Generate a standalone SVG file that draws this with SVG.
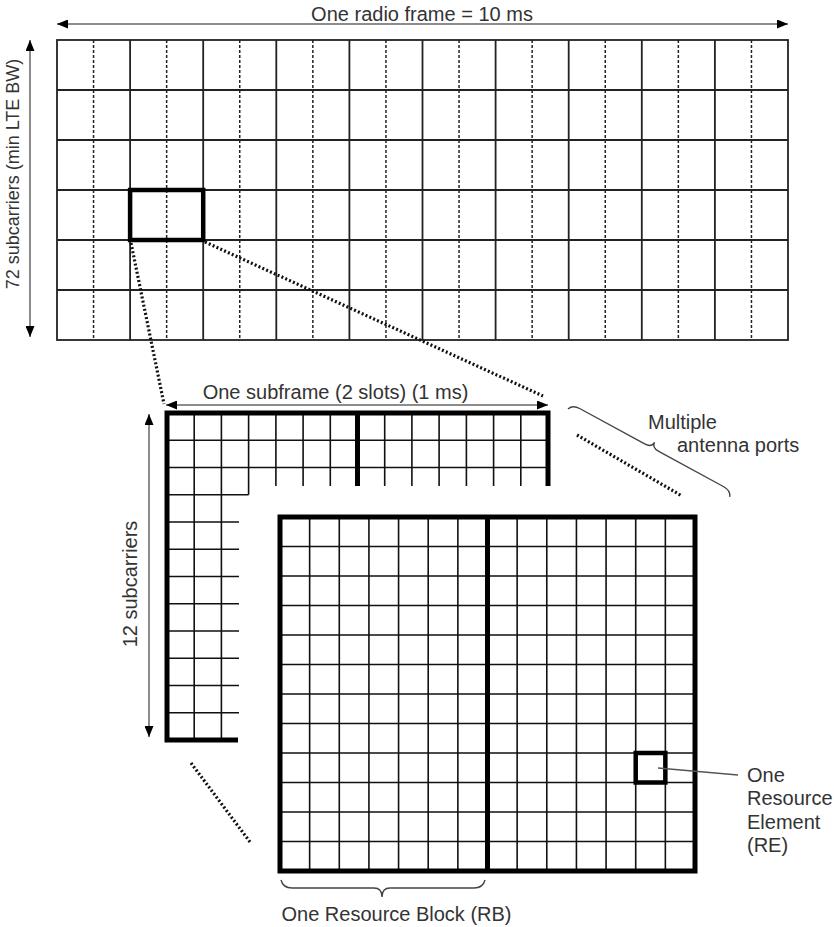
<svg xmlns="http://www.w3.org/2000/svg" width="834" height="927" viewBox="0 0 834 927">
<defs>
<style>
text{font-family:"Liberation Sans",Arial,sans-serif;fill:#333;font-size:20px}
.solid{stroke:#222;stroke-width:1.8;fill:none}
.dash{stroke:#222;stroke-width:1.5;stroke-dasharray:3,2;fill:none}
.thin{stroke:#111;stroke-width:1.6;fill:none}
.thick{stroke:#000;stroke-width:5;fill:none;stroke-linejoin:miter}
.hl{stroke:#000;stroke-width:4.5;fill:none}
.dot{stroke:#111;stroke-width:3.2;stroke-dasharray:2,2.2;fill:none}
.arr{stroke:#666;stroke-width:1.5;fill:none;marker-start:url(#ah);marker-end:url(#ah)}
.brace{stroke:#444;stroke-width:1.4;fill:none}
</style>
<marker id="ah" markerUnits="userSpaceOnUse" markerWidth="11" markerHeight="9" refX="11" refY="4.5" orient="auto-start-reverse">
<path d="M0,0 L11,4.5 L0,9 z" fill="#000"/>
</marker>
</defs>
<rect width="834" height="927" fill="#fff"/>

<g id="radio-frame-grid">
<rect x="57" y="40" width="731" height="300" class="solid"/>
<path class="solid" d="M57,90H788M57,140H788M57,190H788M57,240H788M57,290H788
M130.1,40V340M203.2,40V340M276.3,40V340M349.4,40V340M422.5,40V340M495.6,40V340M568.7,40V340M641.8,40V340M714.9,40V340"/>
<path class="dash" d="M93.55,40V340M166.65,40V340M239.75,40V340M312.85,40V340M385.95,40V340M459.05,40V340M532.15,40V340M605.25,40V340M678.35,40V340M751.45,40V340"/>
</g>
<g id="selected-subframe">
<rect x="130.1" y="190" width="73.1" height="50" class="hl"/>
</g>

<g id="subframe-back-grid">
<path class="thin" d="M167,440.25H548M167,467.5H548M167,494.75H248.6
M167,522H239M167,549.25H239M167,576.5H239M167,603.75H239M167,631H239M167,658.25H239M167,685.5H239M167,712.75H239
M194.2,413V740M221.4,413V740M248.6,413V494.75
M275.9,413V486M303.1,413V486M330.3,413V486M384.7,413V486M411.9,413V486M439.1,413V486M466.4,413V486M493.6,413V486M520.8,413V486"/>
<path class="thick" d="M238,740H167V413H548V486M357.5,413V486"/>
</g>

<g id="resource-block-grid">
<rect x="280" y="517" width="415" height="354" fill="#fff"/>
<path class="thin" d="M309.64,517V871M339.29,517V871M368.93,517V871M398.57,517V871M428.21,517V871M457.86,517V871M517.14,517V871M546.79,517V871M576.43,517V871M606.07,517V871M635.71,517V871M665.36,517V871
M280,546.5H695M280,576H695M280,605.5H695M280,635H695M280,664.5H695M280,694H695M280,723.5H695M280,753H695M280,782.5H695M280,812H695M280,841.5H695"/>
<rect x="280" y="517" width="415" height="354" class="thick"/>
<path class="thick" d="M487.5,517V871"/>
</g>
<g id="resource-element">
<rect x="635.71" y="753" width="29.64" height="29.5" class="hl"/>
</g>

<g id="connectors">
<path class="dot" d="M131,243L164,404"/>
<path class="dot" d="M205,242L543,396"/>
<path class="dot" d="M577,435L682,496"/>
<path class="dot" d="M191,763L250,842"/>
<path class="arr" d="M57,24H788"/>
<path class="arr" d="M30,40V337"/>
<path class="arr" d="M166,405H548"/>
<path class="arr" d="M149,414V737"/>
<path d="M658,768L738,775" stroke="#555" stroke-width="1.3" fill="none"/>
<path class="brace" transform="translate(568,409) rotate(28.5)" d="M0,0 Q2,-6 10,-6 L84,-6 Q92,-6 92,-12 Q92,-6 100,-6 L174,-6 Q182,-6 184,0"/>
<path class="brace" d="M281,880 Q283,888 292,888 L374,888 Q382,888 382,897 Q382,888 390,888 L474,888 Q483,888 485,880"/>
</g>

<g id="labels">
<text x="422" y="20.5" text-anchor="middle">One radio frame = 10 ms</text>
<text transform="translate(18.5,174) rotate(-90)" text-anchor="middle" style="font-size:18px">72 subcarriers (min LTE BW)</text>
<text x="335.5" y="399" text-anchor="middle">One subframe (2 slots) (1 ms)</text>
<text transform="translate(136.5,584) rotate(-90)" text-anchor="middle">12 subcarriers</text>
<text x="648" y="429">Multiple</text>
<text x="677" y="452">antenna ports</text>
<text x="747" y="782">One</text>
<text x="747" y="805">Resource</text>
<text x="747" y="828.5">Element</text>
<text x="747" y="852">(RE)</text>
<text x="396.5" y="921" text-anchor="middle">One Resource Block (RB)</text>
</g>
</svg>
